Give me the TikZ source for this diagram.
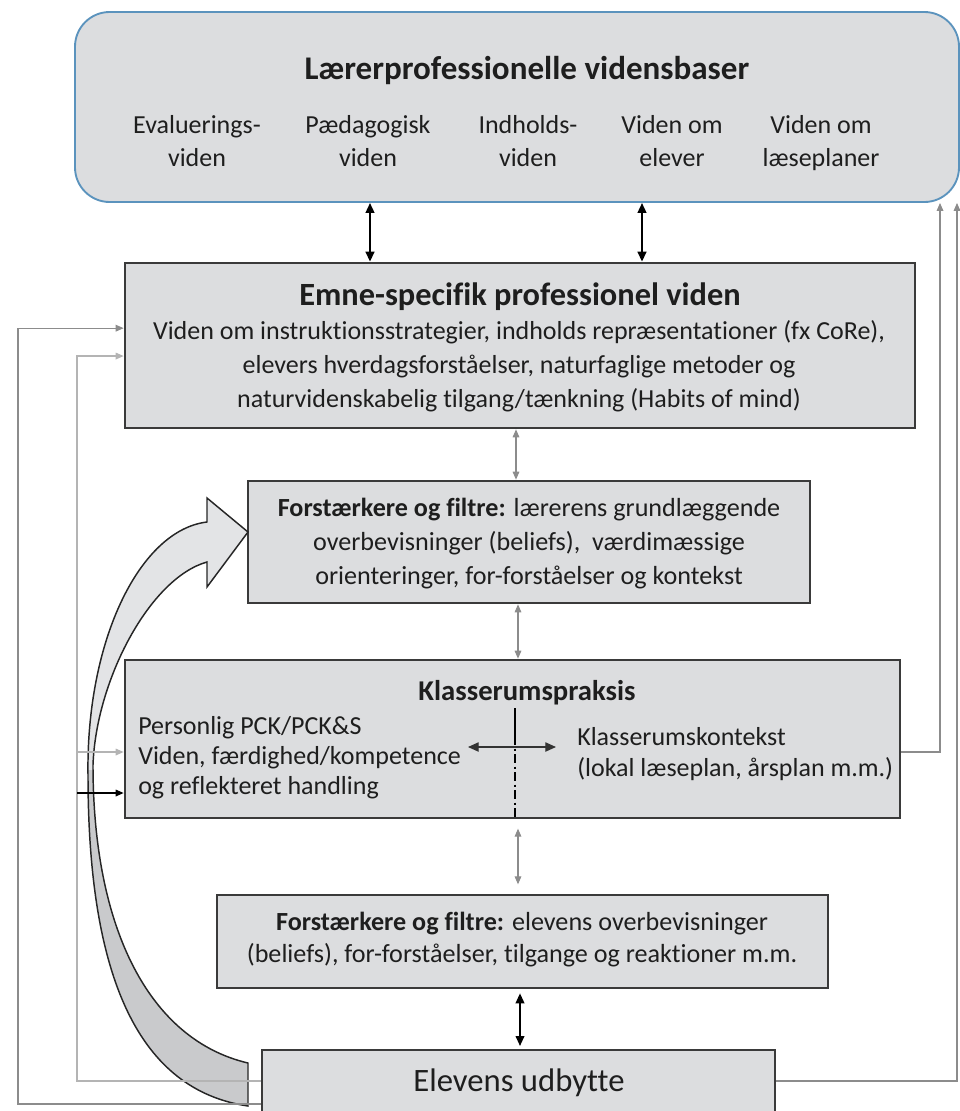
\documentclass[tikz,border=0pt]{standalone}
\usepackage{fontspec}
\setmainfont{Carlito}[RawFeature={-liga}]
\usetikzlibrary{arrows.meta,fit,calc}
\definecolor{boxfill}{HTML}{DCDDDF}
\definecolor{boxline}{HTML}{3A3A3A}
\definecolor{topline}{HTML}{5B93BD}
\definecolor{txtc}{HTML}{1E1E1E}
\definecolor{fbline}{HTML}{8C8C8C}
\definecolor{fblight}{HTML}{B4B4B4}
\definecolor{arrlight}{HTML}{E3E4E6}
\definecolor{arrdark}{HTML}{C9CACC}
\newcommand\bigcurvepath{(207,522) .. controls (140,530) and (86,640) .. (88,775) .. controls (88,980) and (140,1090) .. (248,1106) -- (248,1063) .. controls (150,1040) and (93,930) .. (93,765) .. controls (96,680) and (150,578) .. (207,562) -- (207,587) -- (248,532) -- (207,498) -- cycle}
\begin{document}
\begin{tikzpicture}[x=0.75pt,y=-0.75pt,
  every node/.style={text=txtc},
  box/.style={draw=boxline, line width=2pt, fill=boxfill, inner sep=0pt},
  topbox/.style={draw=topline, line width=1.4pt, fill=boxfill, inner sep=0pt, rounded corners=26pt},
  lbl/.style={inner sep=0pt, align=center, font=\fontsize{19.5}{24.75}\selectfont},
  lblleft/.style={inner sep=0pt, align=left, font=\fontsize{19.5}{22.5}\selectfont},
  ttl/.style={inner sep=0pt, align=center, font=\bfseries\fontsize{24.3}{28}\selectfont},
  thickdbl/.style={{Triangle[length=7.5pt,width=6.5pt]}-{Triangle[length=7.5pt,width=6.5pt]}, line width=1.6pt, draw=black},
  thindbl/.style={{Triangle[length=6pt,width=5pt]}-{Triangle[length=6pt,width=5pt]}, line width=0.8pt, draw=fbline},
  fb/.style={line width=0.9pt, draw=fbline, -{Triangle[length=6pt,width=5pt]}},
]
\useasboundingbox (0,0) rectangle (960,1111);

% boxes
\node[topbox, fit={(75,12) (959,202)}] (base) {};
\node[box, fit={(125,263) (915,428)}] (emne) {};
\node[box, fit={(248,481) (810,603)}] (forst1) {};
\node[box, fit={(125,660) (900,818)}] (klas) {};
\node[box, fit={(217,895) (828,988)}] (forst2) {};
\node[box, fit={(262,1050) (775,1122)}] (elev) {};

% texts: top box
\node[ttl, font=\bfseries\fontsize{24.8}{28}\selectfont] (basetitle) at (527,70) {Lærerprofessionelle vidensbaser};
\node[lbl, anchor=north] (b1) at (197,115) {Evaluerings-\\viden};
\node[lbl, anchor=north] (b2) at (368,115) {Pædagogisk\\viden};
\node[lbl, anchor=north] (b3) at (528,115) {Indholds-\\viden};
\node[lbl, anchor=north] (b4) at (672,115) {Viden om\\elever};
\node[lbl, anchor=north] (b5) at (821,115) {Viden om\\læseplaner};

% emne
\node[ttl] (emnetitle) at (520,297) {Emne-specifik professionel viden};
\node[lbl, font=\fontsize{19.5}{25.5}\selectfont] (emnetext) at (519,366) {Viden om instruktionsstrategier, indholds repræsentationer (fx CoRe),\\elevers hverdagsforståelser, naturfaglige metoder og\\naturvidenskabelig tilgang/tænkning (Habits of mind)};

% forst1
\node[lbl, font=\fontsize{19.6}{25.5}\selectfont] (f1text) at (529,544) {\textbf{Forstærkere og filtre:} lærerens grundlæggende\\overbevisninger (beliefs),\ \ værdimæssige\\orienteringer, for-forståelser og kontekst};

% klasserum
\node[ttl, font=\bfseries\fontsize{21.5}{26}\selectfont] (klastitle) at (527,693) {Klasserumspraksis};
\node[lblleft, anchor=west] (klasleft) at (138,758) {Personlig PCK/PCK\&S\\Viden, færdighed/kompetence\\og reflekteret handling};
\node[lblleft, anchor=west, font=\fontsize{19.5}{23.25}\selectfont] (klasright) at (577,754) {Klasserumskontekst\\(lokal læseplan, årsplan m.m.)};

% forst2
\node[lbl, font=\fontsize{19.6}{24}\selectfont] (f2text) at (522,940) {\textbf{Forstærkere og filtre:} elevens overbevisninger\\(beliefs), for-forståelser, tilgange og reaktioner m.m.};

% elev
\node[lbl, font=\fontsize{24.5}{28}\selectfont] (elevtext) at (519,1083) {Elevens udbytte};

% curved block arrow
\fill[arrlight] \bigcurvepath;
\begin{scope}
  \clip (0,770) rectangle (300,1111);
  \fill[arrdark] \bigcurvepath;
\end{scope}
\draw[line width=1.1pt, black!85, line join=miter] \bigcurvepath;

% vertical connectors
\coordinate (ax1) at (370,0);
\coordinate (ax2) at (642,0);
\coordinate (ax3) at (516,0);
\coordinate (ax4) at (518,0);
\coordinate (ax5) at (520,0);
\draw[thickdbl] (base.south -| ax1) -- (emne.north -| ax1);
\draw[thickdbl] (base.south -| ax2) -- (emne.north -| ax2);
\draw[thindbl] (emne.south -| ax3) -- (forst1.north -| ax3);
\draw[thindbl] (forst1.south -| ax4) -- (klas.north -| ax4);
\draw[thindbl, shorten <=7pt, shorten >=7pt] (klas.south -| ax4) -- (forst2.north -| ax4);
\draw[thickdbl, line width=1.3pt, shorten <=3pt, shorten >=2pt] (forst2.south -| ax5) -- (elev.north -| ax5);

% inside klasserum
\coordinate (vtop) at (515,708);
\coordinate (vmid) at (515,736);
\draw[line width=2.2pt, black] (vtop) -- (vmid);
\draw[line width=1pt, black, dash pattern=on 7pt off 2.5pt on 1.5pt off 2.5pt] (vmid) -- (klas.south -| vmid);
\coordinate (hl) at (468,747);
\coordinate (hr) at (556,747);
\draw[{Triangle[length=8pt,width=7pt]}-{Triangle[length=8pt,width=7pt]}, line width=0.9pt, black!80] (hl) -- (hr);

% right feedback lines
\coordinate (rx1) at (940,400);
\coordinate (rx2) at (957,400);
\coordinate (kr) at ([yshift=-9.75pt]klas.east);
\coordinate (er) at ([yshift=3.75pt]elev.east);
\draw[fb] (kr) -| (base.south -| rx1);
\draw[fb] (er) -| (base.south -| rx2);

% left feedback lines
\coordinate (lx1) at (18,700);
\coordinate (lx2) at (77,700);
\coordinate (el1) at ([yshift=-13.5pt]elev.west);
\coordinate (el2) at ([yshift=3.75pt]elev.west);
\coordinate (em1) at ([yshift=13pt]emne.west);
\coordinate (em2) at ([yshift=-7.9pt]emne.west);
\coordinate (k1) at ([yshift=-9.75pt]klas.west);
\coordinate (k2) at ([yshift=-40.5pt]klas.west);
\draw[fb] (el1) -| (lx1) |- (em1);
\draw[fb, draw=fblight] (el2) -| (lx2) |- (em2);
\draw[fb, draw=fblight] (lx2 |- k1) -- (k1);
\draw[fb, draw=black] (lx2 |- k2) -- (k2);
\end{tikzpicture}
\end{document}
